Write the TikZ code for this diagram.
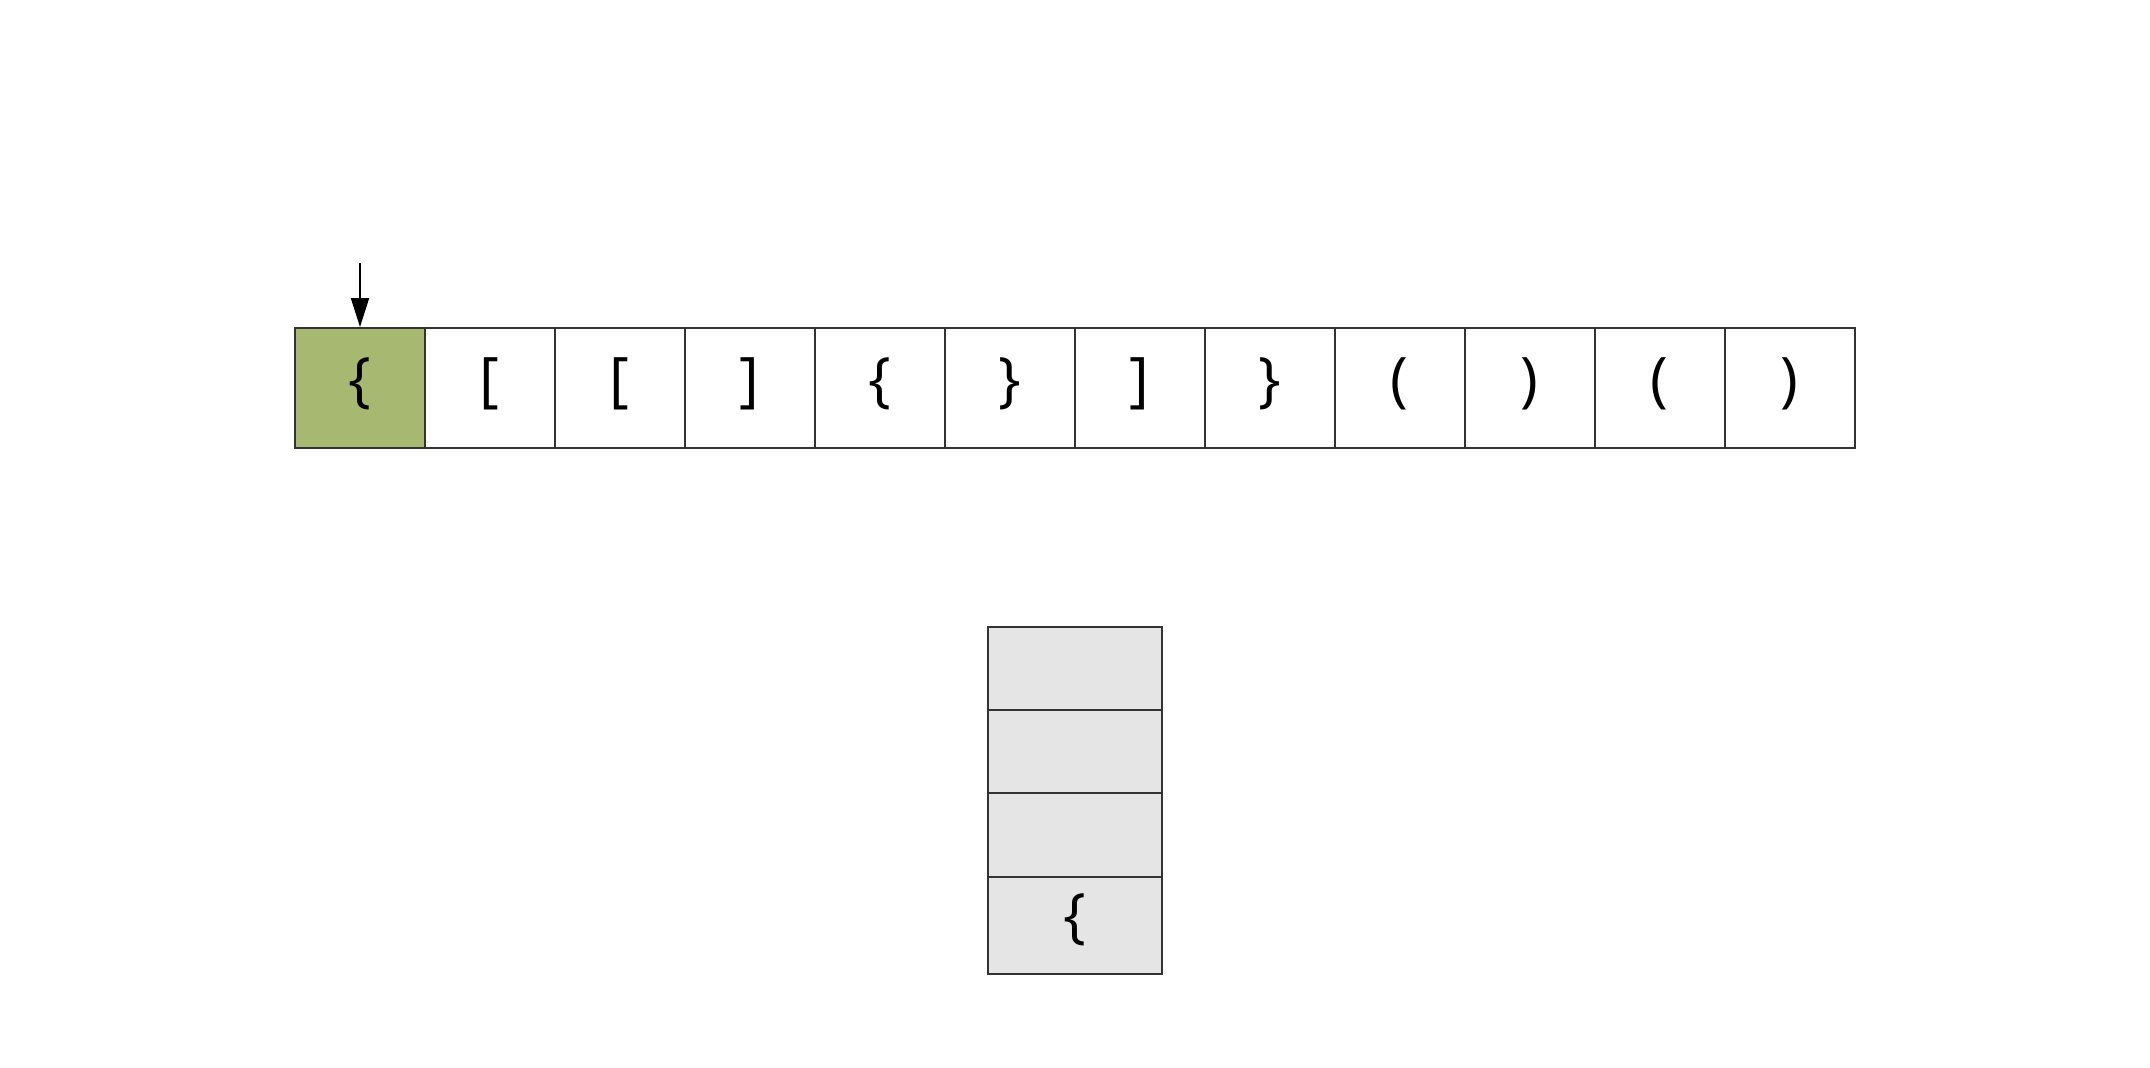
\documentclass[tikz,border=0pt]{standalone}
\usepackage{fontspec}
\setmainfont{Open Sans}
\usetikzlibrary{arrows.meta}
\definecolor{cellgreen}{HTML}{A7B870}
\definecolor{stackgray}{HTML}{E5E5E5}
\definecolor{edge}{HTML}{333333}
\tikzset{
  cellbox/.style={draw=edge, line width=1.5pt, minimum width=130pt, minimum height=120pt, inner sep=0pt, anchor=north west},
  stackbox/.style={draw=edge, line width=1.5pt, fill=stackgray, minimum width=174pt, inner sep=0pt, anchor=north west},
  glyph/.style={inner sep=0pt, font=\fontsize{60}{68}\selectfont},
  pointer/.style={draw=black, line width=2pt, -{Triangle[width=18pt,length=29pt]}}
}
\begin{document}
\begin{tikzpicture}[x=1pt,y=-1pt]
\useasboundingbox (1,1) rectangle (2151,1069);
\fill[cellgreen] (295,328) rectangle (425,448);
\foreach \i/\c in {0/\{,1/[,2/[,3/],4/\{,5/\},6/],7/\},8/(,9/),10/(,11/)} {
  \node[cellbox] (c\i) at ({295+130*\i},328) {};
  \node[glyph] (t\i) at ([yshift=4pt]c\i.center) {\c};
}
\coordinate (ptop) at (361,264);
\coordinate (ptip) at (361,328);
\draw[pointer] (ptop) -- (ptip);
\node[stackbox, minimum height=83pt] (s1) at (988,627) {};
\node[stackbox, minimum height=83pt] (s2) at (988,710) {};
\node[stackbox, minimum height=84pt] (s3) at (988,793) {};
\node[stackbox, minimum height=97pt] (s4) at (988,877) {};
\node[glyph] (st) at ([yshift=5pt]s4.center) {\{};
\end{tikzpicture}
\end{document}
